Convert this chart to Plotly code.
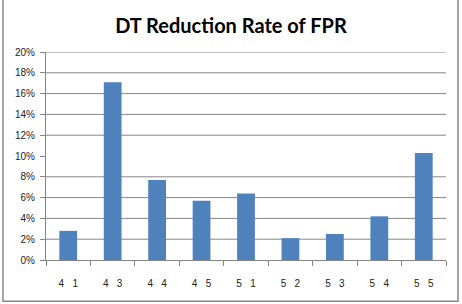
import plotly.graph_objects as go

NB = "\u00a0"
categories = ["4" + NB * 3 + "1", "4" + NB * 3 + "3", "4" + NB * 3 + "4", "4" + NB * 3 + "5",
              "5" + NB * 3 + "1", "5" + NB * 3 + "2", "5" + NB * 3 + "3", "5" + NB * 3 + "4", "5" + NB * 3 + "5"]
values = [0.028, 0.171, 0.077, 0.057, 0.064, 0.021, 0.025, 0.042, 0.103]
ytick_vals = [0.00, 0.02, 0.04, 0.06, 0.08, 0.10, 0.12, 0.14, 0.16, 0.18, 0.20]
ytick_text = ["0%", "2%", "4%", "6%", "8%", "10%", "12%", "14%", "16%", "18%", "20%"]
grid_vals = [v for v in ytick_vals if v not in (0.0, 0.10)]

fig = go.Figure(go.Bar(x=categories, y=values, marker_color="#4F81BD", marker_line_width=0))

shapes = [dict(type="line", xref="paper", yref="y", x0=0, x1=1, y0=g, y1=g,
               line=dict(color="#868686", width=1), layer="below") for g in grid_vals]
shapes.append(dict(type="rect", xref="paper", yref="paper", x0=-0.1075, x1=1.03, y0=-0.198, y1=1.27,
                   line=dict(color="#868686", width=1.5)))

fig.update_layout(
    width=462, height=304,
    margin=dict(l=46, r=16, t=52, b=44),
    paper_bgcolor="white", plot_bgcolor="white",
    bargap=0.6,
    showlegend=False,
    title=dict(text="<b>DT Reduction Rate of FPR</b>", x=0.5, xanchor="center", y=0.915, yanchor="middle",
               font=dict(family="Lato", size=20, color="black")),
    font=dict(family="Liberation Sans", size=10, color="#222222"),
    shapes=shapes,
)
fig.update_xaxes(showline=True, linecolor="#868686", linewidth=1, ticks="outside", ticklen=5,
                 tickcolor="#868686", tickson="boundaries", showgrid=False,
                 ticklabelstandoff=14, tickfont=dict(size=10, color="#222222"))
fig.update_yaxes(range=[0, 0.2], tickvals=ytick_vals, ticktext=ytick_text, showgrid=False,
                 showline=True, linecolor="#868686", linewidth=1, ticks="outside", ticklen=5,
                 tickcolor="#868686", zeroline=False, ticklabelstandoff=3,
                 tickfont=dict(size=10, color="#222222"))

fig.write_html("out.html")
